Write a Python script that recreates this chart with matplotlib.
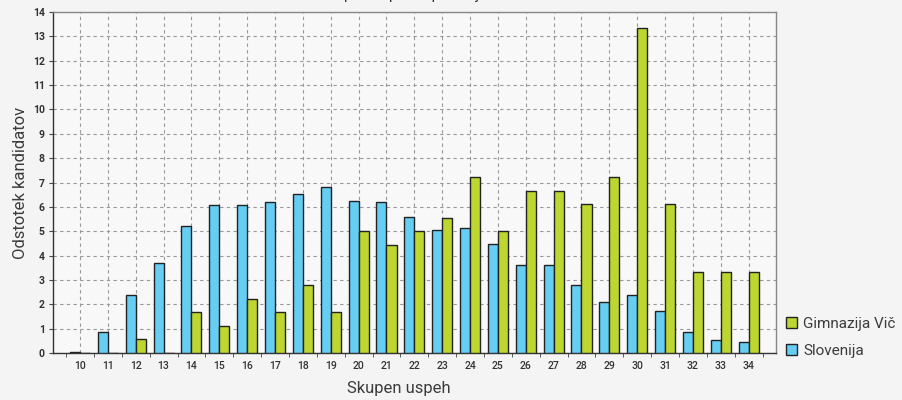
import matplotlib
matplotlib.use('Agg')
import matplotlib.pyplot as plt
import numpy as np

# skupen uspeh (tocke) in odstotek kandidatov
categories = list(range(10, 35))
slovenija = [0.05, 0.85, 2.4, 3.7, 5.2, 6.08, 6.08, 6.18, 6.53, 6.83,
             6.22, 6.18, 5.57, 5.04, 5.12, 4.46, 3.6, 3.6, 2.8, 2.1,
             2.37, 1.74, 0.87, 0.52, 0.44]
gimnazija = [0, 0, 0.56, 0, 1.67, 1.11, 2.22, 1.67, 2.78, 1.67,
             5.0, 4.44, 5.0, 5.56, 7.22, 5.0, 6.67, 6.67, 6.11, 7.22,
             13.33, 6.11, 3.33, 3.33, 3.33]
series_names = ['Gimnazija Vič', 'Slovenija']

BLUE = '#66cdf3'
GREEN = '#bed630'
BG = '#f4f4f4'
TXT = '#3c3c3c'

plt.rcParams['font.family'] = ['Roboto', 'DejaVu Sans']

fig = plt.figure(figsize=(9.03, 4.0), dpi=100, facecolor=BG)
ax = fig.add_axes([0.0587, 0.1175, 0.8003, 0.8525])
ax.set_facecolor('#f8f8f8')

x = np.array(categories)
w = 0.36
b_slo = ax.bar(x - w / 2, slovenija, w, color=BLUE, edgecolor='#222222',
               linewidth=1.0, zorder=3, label=series_names[1])
b_gim = ax.bar(x + w / 2, gimnazija, w, color=GREEN, edgecolor='#222222',
               linewidth=1.0, zorder=3, label=series_names[0])

ax.set_xlim(9.03, 34.97)
ax.set_ylim(0, 14)
ax.set_xticks(categories)
ax.set_xticklabels([str(c) for c in categories], fontsize=7.5,
                   fontweight='medium', color='#333333')
ax.set_yticks(range(0, 15))
ax.set_yticklabels([str(v) for v in range(0, 15)], fontsize=7.5,
                   fontweight='bold', color='#333333')
ax.tick_params(axis='x', length=0, pad=6)
ax.tick_params(axis='y', length=3, color='#444444', pad=3)
ax.set_xticks(np.arange(9.5, 35, 1), minor=True)
ax.tick_params(axis='x', which='minor', length=3, color='#444444')

ax.grid(True, linestyle=(0, (3, 3)), color='#999999', linewidth=0.8, zorder=0)

for side in ['top', 'right']:
    ax.spines[side].set_color('#888888')
    ax.spines[side].set_linewidth(1.0)
for side in ['left', 'bottom']:
    ax.spines[side].set_color('#333333')
    ax.spines[side].set_linewidth(1.0)

ax.set_xlabel('Skupen uspeh', fontsize=12, fontweight='normal', color=TXT)
ax.set_ylabel('Odstotek kandidatov', fontsize=12, fontweight='normal', color=TXT)
ax.xaxis.set_label_coords(0.478, -0.082)
ax.yaxis.set_label_coords(-0.034, 0.5)

fig.text(0.455, 1.0 + 0.6 / 400, 'Skupen uspeh – primerjava', ha='center',
         va='baseline', fontsize=11, color='#333333')

ax.legend(handles=[b_gim, b_slo], labels=series_names, loc='lower left',
          bbox_to_anchor=(1.0, -0.045), frameon=False, fontsize=11,
          handlelength=0.7, handleheight=0.7, handletextpad=0.4,
          labelspacing=0.85, borderpad=0.2, labelcolor=TXT)

fig.savefig('out.png', dpi=100, facecolor=BG)
